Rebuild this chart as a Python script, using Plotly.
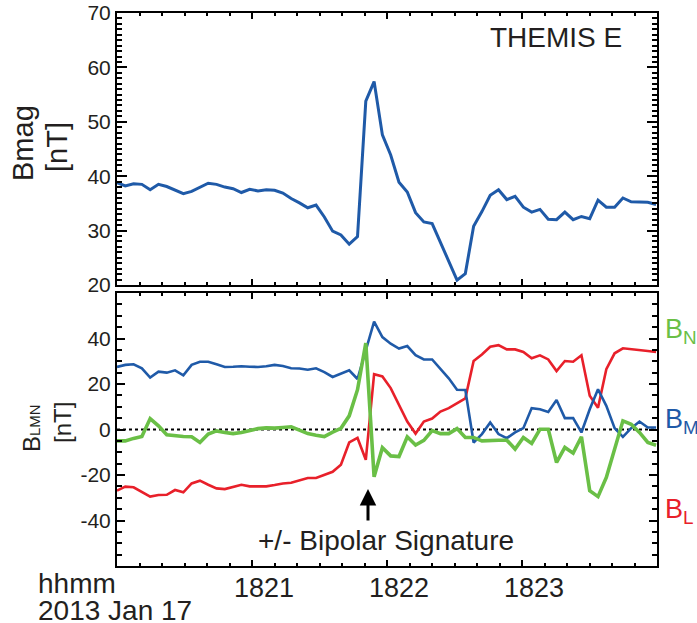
import numpy as np
import pandas as pd
import plotly.graph_objects as go

# ---------------- data ----------------
START = "2013-01-17 18:20:00"
SAMPLE_SECONDS = 3.686          # spin-resolution sampling interval
N_SAMPLES = 66

bmag = [38.8, 38.2, 38.6, 38.5, 37.5, 38.5, 38.1, 37.5, 36.8, 37.2,
        38.0, 38.7, 38.5, 38.0, 37.7, 37.0, 37.6, 37.3, 37.5, 37.4,
        36.9, 35.9, 35.1, 34.2, 34.7, 32.5, 29.9, 29.2, 27.5, 28.9,
        53.8, 57.4, 47.6, 43.9, 38.9, 37.1, 33.3, 31.6, 31.3, 27.9,
        24.4, 20.9, 22.1, 30.8, 33.5, 36.5, 37.5, 35.7, 36.3, 34.3,
        33.4, 33.9, 32.1, 32.0, 33.4, 32.0, 32.6, 32.2, 35.6, 34.3,
        34.3, 36.0, 35.3, 35.3, 35.2, 34.8]

b_m = [27.5, 28.4, 28.7, 26.9, 22.8, 25.4, 25.0, 26.0, 23.8, 28.4,
       29.8, 29.8, 28.7, 27.5, 27.6, 27.8, 27.6, 27.5, 27.8, 28.4,
       27.9, 26.9, 26.8, 26.3, 26.9, 25.2, 23.1, 24.5, 26.0, 22.2,
       34.5, 47.4, 40.6, 37.7, 35.6, 36.7, 32.7, 30.8, 30.8, 26.5,
       22.5, 17.5, 17.4, -5.7, -2.0, 3.1, -2.0, -3.8, -1.3, 0.6,
       9.4, 8.9, 7.7, 13.0, 5.0, 5.0, -1.3, 8.9, 17.7, 10.4,
       0.6, -3.2, 0.6, 3.5, 0.9, 0.9]

b_l = [-26.9, -25.1, -25.4, -27.3, -29.5, -28.8, -28.7, -26.6, -27.6, -23.7,
       -22.5, -24.3, -25.9, -26.2, -25.1, -24.3, -25.0, -25.0, -25.0, -24.4,
       -23.7, -23.4, -22.2, -21.3, -21.3, -19.9, -18.6, -15.5, -5.7, -3.7,
       -13.3, 24.3, 23.3, 18.2, 10.8, 3.5, -1.8, 3.5, 4.8, 7.9,
       9.4, 11.4, 13.7, 30.1, 33.0, 36.4, 37.1, 35.2, 35.2, 34.1,
       31.3, 32.6, 30.8, 25.7, 30.1, 29.8, 32.6, 14.8, 9.6, 26.5,
       33.5, 35.7, 35.2, 34.9, 34.5, 34.1]

b_n = [-5.0, -5.0, -3.9, -3.1, 4.8, 1.6, -2.3, -2.8, -3.1, -3.2,
       -5.7, -2.0, -0.6, -1.3, -1.8, -1.3, -0.3, 0.4, 0.7, 0.6,
       0.9, 1.2, -0.3, -1.8, -2.5, -3.1, -1.2, 0.5, 6.0, 17.5,
       38.0, -20.8, -8.0, -11.6, -11.9, -3.2, -6.8, -4.8, -0.5, -1.8,
       -1.8, 0.4, -3.5, -3.5, -5.0, -4.7, -4.7, -4.7, -8.6, -3.5,
       -6.1, 0.1, 0.1, -14.5, -7.9, -10.4, -3.2, -26.9, -29.5, -21.1,
       -8.0, 3.8, 2.3, -1.3, -5.7, -6.9]

top_ytick_vals = [20, 30, 40, 50, 60, 70]
bot_ytick_vals = [-40, -20, 0, 20, 40]
x_tick_times = ["2013-01-17 18:21:00", "2013-01-17 18:22:00", "2013-01-17 18:23:00"]
x_tick_text = ["1821", "1822", "1823"]

times = pd.Timestamp(START) + pd.to_timedelta(np.arange(N_SAMPLES) * SAMPLE_SECONDS, unit="s")

# ---------------- styling ----------------
BLUE = "#1f5aa8"
RED = "#e8202a"
GREEN = "#6abf46"
FONT = "Liberation Sans, Arial, Helvetica, sans-serif"

W, H = 697, 623
ML, MR, MT, MB = 117, 40, 13, 57


def px_x(x):
    return (x - ML) / (W - ML - MR)


def px_y(y):
    return (H - MB - y) / (H - MT - MB)


top_dom = [px_y(285), 1.0]
bot_dom = [0.0, px_y(293)]

xrange = ["2013-01-17 18:20:00", "2013-01-17 18:24:00"]

fig = go.Figure()
fig.add_trace(go.Scatter(x=times, y=bmag, mode="lines", line=dict(color=BLUE, width=3),
                         xaxis="x", yaxis="y", showlegend=False))
fig.add_trace(go.Scatter(x=times, y=b_l, mode="lines", line=dict(color=RED, width=2.6),
                         xaxis="x2", yaxis="y2", showlegend=False))
fig.add_trace(go.Scatter(x=times, y=b_m, mode="lines", line=dict(color=BLUE, width=2.6),
                         xaxis="x2", yaxis="y2", showlegend=False))
fig.add_trace(go.Scatter(x=times, y=b_n, mode="lines", line=dict(color=GREEN, width=3.6),
                         xaxis="x2", yaxis="y2", showlegend=False))

xcommon = dict(range=xrange, type="date", showline=True, linecolor="black", linewidth=2,
               mirror="allticks", ticks="inside", tickcolor="black", tickwidth=1.5,
               ticklen=6, showgrid=False, zeroline=False, automargin=False,
               tickmode="array", tickvals=x_tick_times, ticktext=x_tick_text,
               minor=dict(dtick=10000, tick0=xrange[0], ticks="inside", ticklen=3,
                          tickwidth=1.5, tickcolor="black", showgrid=False))

fig.update_layout(
    width=W, height=H,
    margin=dict(l=ML, r=MR, t=MT, b=MB, pad=0, autoexpand=False),
    paper_bgcolor="white", plot_bgcolor="white",
    font=dict(family=FONT, color="#231f20"),
    xaxis=dict(**xcommon, anchor="y", domain=[0, 1], showticklabels=False),
    yaxis=dict(domain=top_dom, anchor="x", range=[20, 70], tickmode="array",
               tickvals=top_ytick_vals, ticktext=[str(v) for v in top_ytick_vals],
               showline=True, linecolor="black", linewidth=2, mirror="allticks",
               ticks="inside", ticklen=10, tickwidth=1.5, tickcolor="black",
               showgrid=False, zeroline=False, automargin=False,
               tickfont=dict(size=21, color="#231f20"),
               minor=dict(dtick=1, ticks="inside", ticklen=5, tickwidth=1.5,
                          tickcolor="black", showgrid=False)),
    xaxis2=dict(**xcommon, anchor="y2", domain=[0, 1], showticklabels=True,
                tickfont=dict(size=27, color="#231f20"), ticklabelshift=12,
                ticklabelstandoff=-3),
    yaxis2=dict(domain=bot_dom, anchor="x2", range=[-60, 60], tickmode="array",
                tickvals=bot_ytick_vals, ticktext=[str(v) for v in bot_ytick_vals],
                showline=True, linecolor="black", linewidth=2, mirror="allticks",
                ticks="inside", ticklen=8, tickwidth=1.5, tickcolor="black",
                showgrid=False, zeroline=False, automargin=False,
                tickfont=dict(size=21, color="#231f20"),
                minor=dict(dtick=5, ticks="inside", ticklen=5, tickwidth=1.5,
                           tickcolor="black", showgrid=False)),
)

# dotted zero line in the lower panel
fig.add_shape(type="line", xref="x2 domain", x0=0, x1=1, yref="y2", y0=0, y1=0,
              line=dict(color="black", width=2, dash="dot"), layer="below")

ann = []
txt = "#231f20"
# y axis titles
ann.append(dict(text="Bmag", x=px_x(23), y=px_y(143), xref="paper", yref="paper",
                textangle=-90, showarrow=False, font=dict(size=29, color=txt),
                xanchor="center", yanchor="middle"))
ann.append(dict(text="[nT]", x=px_x(57), y=px_y(147), xref="paper", yref="paper",
                textangle=-90, showarrow=False, font=dict(size=29, color=txt),
                xanchor="center", yanchor="middle"))
ann.append(dict(text="B<span style='font-size:15px'>LMN</span>", x=px_x(31), y=px_y(428),
                xref="paper", yref="paper", textangle=-90, showarrow=False,
                font=dict(size=24, color=txt), xanchor="center", yanchor="middle"))
ann.append(dict(text="[nT]", x=px_x(62), y=px_y(423), xref="paper", yref="paper",
                textangle=-90, showarrow=False, font=dict(size=24, color=txt),
                xanchor="center", yanchor="middle"))
# panel label
ann.append(dict(text="THEMIS E", x=px_x(556), y=px_y(37), xref="paper", yref="paper",
                showarrow=False, font=dict(size=28, color=txt),
                xanchor="center", yanchor="middle"))
# bipolar signature
ann.append(dict(text="+/- Bipolar Signature", x=px_x(386), y=px_y(540), xref="paper",
                yref="paper", showarrow=False, font=dict(size=28, color=txt),
                xanchor="center", yanchor="middle"))
ann.append(dict(text="", x=px_x(368), y=px_y(489), xref="paper", yref="paper",
                ax=0, ay=33, showarrow=True, arrowhead=2, arrowsize=1.1,
                arrowwidth=3, arrowcolor="black"))
# time labels
ann.append(dict(text="hhmm", x=px_x(36), y=px_y(583), xref="paper", yref="paper",
                showarrow=False, font=dict(size=28, color=txt),
                xanchor="left", yanchor="middle"))
ann.append(dict(text="2013 Jan 17", x=px_x(36), y=px_y(610), xref="paper", yref="paper",
                showarrow=False, font=dict(size=28, color=txt),
                xanchor="left", yanchor="middle"))
# component labels
for name, color, ypx in [("N", GREEN, 331), ("M", BLUE, 421), ("L", RED, 511)]:
    ann.append(dict(text=f"B<sub>{name}</sub>", x=px_x(663), y=px_y(ypx),
                    xref="paper", yref="paper", showarrow=False,
                    font=dict(size=27, color=color), xanchor="left", yanchor="middle"))

fig.update_layout(annotations=ann)

fig.write_html("out.html", config={"displayModeBar": False},
               post_script="document.body.style.margin='0';document.body.style.overflow='hidden';")
